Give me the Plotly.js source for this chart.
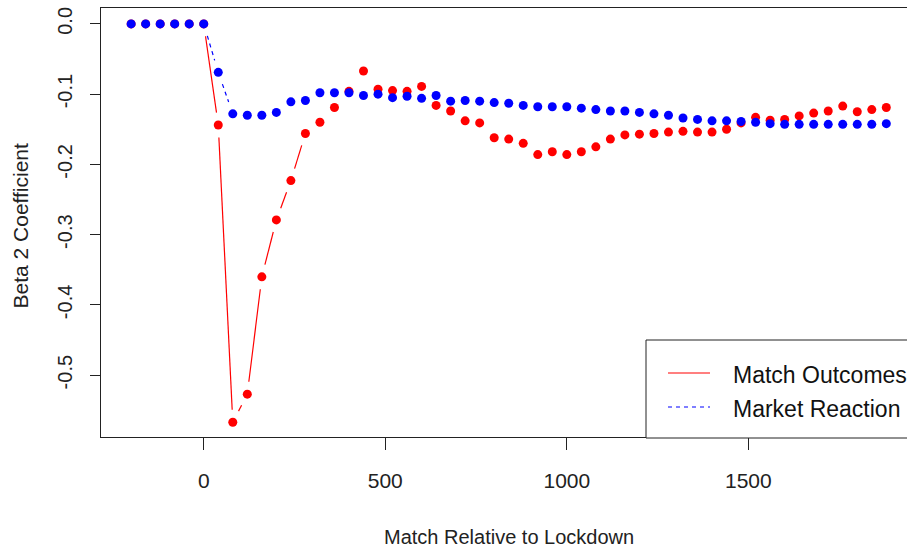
<!DOCTYPE html>
<html><head><meta charset="utf-8">
<script src="https://cdn.plot.ly/plotly-3.0.1.min.js"></script>
<style>html,body{margin:0;padding:0;background:#fff;}</style>
</head><body><div id="chart" style="width:907px;height:550px;"></div>
<script>
const matches = [-200,-160,-120,-80,-40,0,40,80,120,160,200,240,280,320,360,400,440,480,520,560,600,640,680,720,760,800,840,880,920,960,1000,1040,1080,1120,1160,1200,1240,1280,1320,1360,1400,1440,1480,1520,1560,1600,1640,1680,1720,1760,1800,1840,1880];
const matchOutcomes = [0,0,0,0,0,0,
  -0.144,-0.567,-0.527,-0.360,-0.279,-0.223,-0.156,-0.140,-0.119,-0.096,
  -0.067,-0.093,-0.095,-0.096,-0.089,-0.116,-0.124,-0.138,-0.141,-0.162,
  -0.164,-0.170,-0.186,-0.182,-0.186,-0.182,-0.175,-0.164,-0.158,-0.157,
  -0.156,-0.154,-0.153,-0.154,-0.154,-0.150,-0.141,-0.133,-0.137,-0.136,
  -0.131,-0.127,-0.124,-0.117,-0.125,-0.122,-0.119];
const marketReaction = [0,0,0,0,0,0,
  -0.069,-0.128,-0.130,-0.130,-0.126,-0.111,-0.109,-0.098,-0.098,-0.098,
  -0.102,-0.100,-0.105,-0.103,-0.106,-0.102,-0.110,-0.109,-0.110,-0.112,
  -0.113,-0.116,-0.118,-0.118,-0.118,-0.120,-0.122,-0.124,-0.124,-0.126,
  -0.128,-0.130,-0.134,-0.136,-0.138,-0.138,-0.139,-0.140,-0.142,-0.143,
  -0.143,-0.143,-0.143,-0.143,-0.143,-0.143,-0.142];
const seriesNames = ["Match Outcomes","Market Reaction"];
const seriesColors = ["#ff0000","#0000ff"];
const yTickVals = [0,-0.1,-0.2,-0.3,-0.4,-0.5];
const yTickText = ["0.0","-0.1","-0.2","-0.3","-0.4","-0.5"];
const xTickVals = [0,500,1000,1500];
const xTickText = ["0","500","1000","1500"];
const xTitle = "Match Relative to Lockdown";
const yTitle = "Beta 2 Coefficient";

const W = 907, H = 550, M = {l:101, r:0, t:8, b:113};
const xRange = [-283, 1937], yRange = [-0.588, 0.0226];
const pw = W - M.l - M.r, ph = H - M.t - M.b;
const sx = pw / (xRange[1] - xRange[0]), sy = ph / (yRange[1] - yRange[0]);
const GAP = 12.5;
// R type="b": line segments leave a gap around each point
function gapped(xs, ys) {
  const gx = [], gy = [];
  for (let i = 0; i < xs.length - 1; i++) {
    const dx = xs[i+1] - xs[i], dy = ys[i+1] - ys[i];
    const d = Math.hypot(dx * sx, dy * sy);
    if (d > 2 * GAP) {
      const f = GAP / d;
      gx.push(xs[i] + dx * f, xs[i+1] - dx * f, null);
      gy.push(ys[i] + dy * f, ys[i+1] - dy * f, null);
    }
  }
  return {x: gx, y: gy};
}
const rl = gapped(matches, matchOutcomes);
const bl = gapped(matches, marketReaction);

const traces = [
  {x: rl.x, y: rl.y, mode: 'lines', name: seriesNames[0], showlegend: false, line: {color: seriesColors[0], width: 1.2}, connectgaps: false, hoverinfo: 'skip'},
  {x: matches, y: matchOutcomes, mode: 'markers', name: seriesNames[0], showlegend: false, marker: {color: seriesColors[0], size: 9}},
  {x: bl.x, y: bl.y, mode: 'lines', name: seriesNames[1], showlegend: false, line: {color: seriesColors[1], width: 1.2, dash: '4px,4px'}, connectgaps: false, hoverinfo: 'skip'},
  {x: matches, y: marketReaction, mode: 'markers', name: seriesNames[1], showlegend: false, marker: {color: seriesColors[1], size: 9}}
];

// legend box (R style), positioned in pixels
const px = v => (v - M.l) / pw;
const py = v => (H - M.b - v) / ph;
const legendShapes = [
  {type: 'rect', xref: 'paper', yref: 'paper', x0: px(646), x1: px(935), y0: py(438), y1: py(340), line: {color: '#222', width: 1}, fillcolor: '#fff', layer: 'above'},
  {type: 'line', xref: 'paper', yref: 'paper', x0: px(668), x1: px(710), y0: py(373), y1: py(373), line: {color: seriesColors[0], width: 1.2}, layer: 'above'},
  {type: 'line', xref: 'paper', yref: 'paper', x0: px(668), x1: px(710), y0: py(407), y1: py(407), line: {color: seriesColors[1], width: 1.2, dash: '4px,4px'}, layer: 'above'}
];
const legendFont = {family: 'Liberation Sans, Arial, sans-serif', size: 23, color: '#111'};

const layout = {
  width: W, height: H, margin: M, showlegend: false,
  paper_bgcolor: '#fff', plot_bgcolor: '#fff',
  font: {family: 'Liberation Sans, Arial, sans-serif', color: '#000'},
  xaxis: {range: xRange, showgrid: false, zeroline: false, showline: true, mirror: true,
    linecolor: '#222', linewidth: 1, ticks: 'outside', ticklen: 12, tickcolor: '#222',
    tickvals: xTickVals, ticktext: xTickText, ticklabelstandoff: 13,
    tickfont: {family: 'Liberation Sans, Arial, sans-serif', size: 21, color: '#222'}},
  yaxis: {range: yRange, showgrid: false, zeroline: false, showline: true, mirror: false,
    linecolor: '#222', linewidth: 1, ticks: 'outside', ticklen: 10, tickcolor: '#222',
    tickvals: yTickVals, ticktext: yTickText, tickangle: -90, ticklabelstandoff: 10,
    tickfont: {family: 'Liberation Sans, Arial, sans-serif', size: 20, color: '#222'}},
  shapes: legendShapes,
  annotations: [
    {text: xTitle, xref: 'paper', yref: 'paper', x: 0.506, y: 0, yanchor: 'middle', yshift: -100, showarrow: false,
     font: {family: 'Liberation Sans, Arial, sans-serif', size: 20, color: '#222'}},
    {text: yTitle, xref: 'paper', yref: 'paper', x: 0, y: 0.5, xanchor: 'center', xshift: -81, yshift: -3, textangle: -90, showarrow: false,
     font: {family: 'Liberation Sans, Arial, sans-serif', size: 21, color: '#222'}},
    {text: seriesNames[0], xref: 'paper', yref: 'paper', x: px(731), y: py(375), xanchor: 'left', yanchor: 'middle', showarrow: false, font: legendFont},
    {text: seriesNames[1], xref: 'paper', yref: 'paper', x: px(731), y: py(409), xanchor: 'left', yanchor: 'middle', showarrow: false, font: legendFont}
  ]
};
Plotly.newPlot('chart', traces, layout, {staticPlot: true, displayModeBar: false});
</script>
</body></html>
